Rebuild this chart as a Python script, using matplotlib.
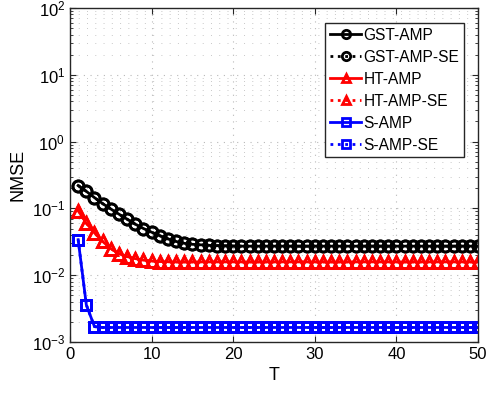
import numpy as np
import matplotlib
matplotlib.use('Agg')
import matplotlib.pyplot as plt
from matplotlib.ticker import LogLocator, NullFormatter

plt.rcParams['font.family'] = ['Liberation Sans', 'DejaVu Sans']

# iteration index
T = list(range(1, 51))

# NMSE
gst_amp = [0.22, 0.18, 0.145, 0.118, 0.098, 0.082, 0.069, 0.058, 0.050, 0.044,
           0.039, 0.035, 0.032, 0.030, 0.029, 0.0285, 0.028, 0.0277, 0.0275, 0.0273] + [0.0272] * 30
gst_amp_se = gst_amp[:]
ht_amp = [0.093, 0.060, 0.043, 0.032, 0.025, 0.021, 0.019, 0.0177, 0.0168, 0.0163,
          0.0160, 0.0159] + [0.0158] * 38
ht_amp_se = ht_amp[:]
s_amp = [0.034, 0.0036, 0.0017] + [0.00165] * 47
s_amp_se = s_amp[:]

fig = plt.figure(figsize=(4.87, 3.97), dpi=100)
ax = fig.add_axes([70 / 487, 55 / 397, 408 / 487, 334 / 397])

ax.plot(T, gst_amp, '-', color='k', lw=2, marker='o', ms=8, mfc='none', mew=2, label='GST-AMP')
ax.plot(T, gst_amp_se, ':', color='k', lw=2, marker='o', ms=8, mfc='none', mew=2, label='GST-AMP-SE')
ax.plot(T, ht_amp, '-', color='r', lw=2, marker='^', ms=8.5, mfc='none', mew=2, label='HT-AMP')
ax.plot(T, ht_amp_se, ':', color='r', lw=2, marker='^', ms=8.5, mfc='none', mew=2, label='HT-AMP-SE')
ax.plot(T, s_amp, '-', color='b', lw=2, marker='s', ms=7, mfc='none', mew=2, label='S-AMP')
ax.plot(T, s_amp_se, ':', color='b', lw=2, marker='s', ms=7, mfc='none', mew=2, label='S-AMP-SE')

ax.set_yscale('log')
ax.set_xlim(0, 50)
ax.set_ylim(1e-3, 1e2)
ax.set_xticks([0, 10, 20, 30, 40, 50])
ax.yaxis.set_major_locator(LogLocator(base=10, numticks=10))
ax.yaxis.set_minor_locator(LogLocator(base=10, subs=np.arange(2, 10), numticks=20))
ax.yaxis.set_minor_formatter(NullFormatter())

ax.grid(True, which='major', ls=(0, (1, 5)), color='#b8b8b8', lw=0.8)
ax.grid(True, which='minor', axis='y', ls=(0, (1, 7.5)), color='#c8c8c8', lw=0.7)
ax.tick_params(which='both', direction='in', top=True, right=True, labelsize=12, color='#262626')
ax.tick_params(which='major', length=4)
ax.tick_params(which='minor', length=2.5)
for s in ax.spines.values():
    s.set_color('#262626')
    s.set_linewidth(1.0)

ax.set_xlabel('T', fontsize=13)
ax.set_ylabel('NMSE', fontsize=13)

leg = ax.legend(loc='upper right', bbox_to_anchor=(464 / 487, 1 - 23 / 397),
                bbox_transform=fig.transFigure, borderaxespad=0, fontsize=11.2,
                fancybox=False, edgecolor='#262626', framealpha=1, markerscale=0.75,
                handlelength=2.0, handletextpad=0.15, labelspacing=0.45, borderpad=0.3)
leg.get_frame().set_linewidth(1.0)

fig.savefig('out.png', dpi=100)
